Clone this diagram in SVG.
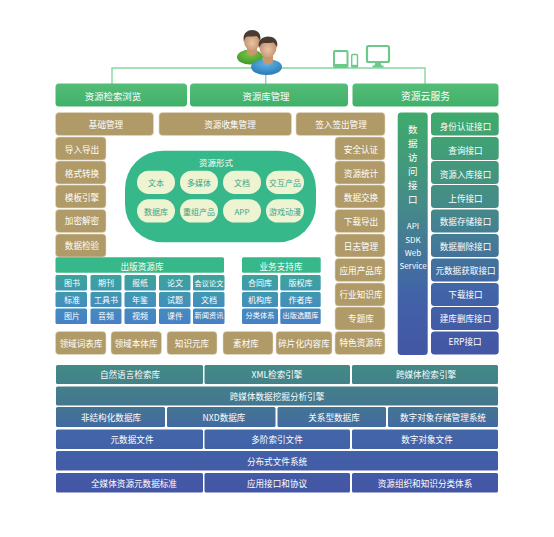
<svg xmlns="http://www.w3.org/2000/svg" width="554" height="537" viewBox="0 0 554 537">
<style>
text{font-family:"Noto Sans CJK SC","Liberation Sans",sans-serif;font-size:8.600px;fill:#fff;text-anchor:middle;dominant-baseline:central}
.b rect{fill:#b09a67;stroke:#e4dcc8;stroke-width:.6}
.s{font-size:8px}
.x{font-size:7.200px}
.p rect{fill:#eef3d2}
.p text{fill:#3fa284;font-size:8px}
.v{font-size:9.500px}
</style>
<defs>
<linearGradient id="g" gradientUnits="userSpaceOnUse" x1="0" y1="83" x2="0" y2="107"><stop offset="0" stop-color="#55bd78"/><stop offset="1" stop-color="#3fb069"/></linearGradient>
<linearGradient id="a" gradientUnits="userSpaceOnUse" x1="0" y1="112" x2="0" y2="355"><stop offset="0" stop-color="#3fab6b"/><stop offset=".4" stop-color="#45898a"/><stop offset=".75" stop-color="#4163a8"/><stop offset="1" stop-color="#4456a5"/></linearGradient>
<linearGradient id="c" gradientUnits="userSpaceOnUse" x1="0" y1="275" x2="0" y2="324"><stop offset="0" stop-color="#3ba49a"/><stop offset=".5" stop-color="#4293b8"/><stop offset="1" stop-color="#4780c6"/></linearGradient>
<linearGradient id="l" gradientUnits="userSpaceOnUse" x1="0" y1="365" x2="0" y2="493"><stop offset="0" stop-color="#428a85"/><stop offset=".3" stop-color="#44778f"/><stop offset=".55" stop-color="#4265a8"/><stop offset="1" stop-color="#4455a5"/></linearGradient>
<radialGradient id="sk" cy=".6" r=".6"><stop offset="0" stop-color="#ecc4a2"/><stop offset="1" stop-color="#b98a68"/></radialGradient>
<radialGradient id="gb" cy=".3" r=".7"><stop offset="0" stop-color="#7cc243"/><stop offset="1" stop-color="#3f9a2c"/></radialGradient>
<radialGradient id="bb" cy=".3" r=".7"><stop offset="0" stop-color="#63b4e2"/><stop offset="1" stop-color="#2679b5"/></radialGradient>
</defs>
<g id="connectors" fill="none" stroke="#86d6a0" stroke-width="1.400">
<path d="M112 84V68H425V84"/><path d="M265.700 68V84"/>
</g>
<g id="users">
<ellipse cx="250" cy="57" rx="13" ry="7.500" fill="url(#gb)"/>
<path d="M247 44h10v9q-5 5-10 0z" fill="#c99670"/>
<ellipse cx="252" cy="41" rx="8" ry="9.500" fill="url(#sk)"/>
<path d="M244 42c-2-8 3-12 8-12s10 3 8 11c-1-3-3-5-4-5-4 1-9 0-10 1-1 1-2 3-2 5z" fill="#4a3a30"/>
<ellipse cx="266.500" cy="67" rx="15.500" ry="8" fill="url(#bb)"/>
<path d="M263 52h10v10q-5 5-10 0z" fill="#c99670"/>
<ellipse cx="268" cy="47.500" rx="8.500" ry="10" fill="url(#sk)"/>
<path d="M259 48c-2-8 4-11.500 9-11.500s11 3 9 11c-1-3-3-5-4-5-4 1-9 0-11 1-1 1-2 2-3 4.500z" fill="#4a3a30"/>
</g>
<g id="devices" fill="none" stroke="#6cc98a">
<rect x="334" y="51" width="13.500" height="16" rx="1" stroke-width="2"/>
<path d="M334 65.500h13.500" stroke-width="3"/>
<rect x="351.700" y="54.500" width="5.800" height="12.500" rx="1" stroke-width="1.400"/>
<path d="M351.700 65.800h5.800" stroke-width="2"/>
<rect x="367" y="46" width="22" height="16" rx="1.500" stroke-width="2.200"/>
<path d="M375.500 62h5l1 3.500h2v2h-11v-2h2z" fill="#6cc98a" stroke="none"/>
</g>
<g id="top-bar" fill="url(#g)">
<g id="n-browse"><rect x="55.500" y="83.500" width="131.500" height="23" rx="3.500"/><text x="113" y="95.500" style="font-size:9.400px">资源检索浏览</text></g>
<g id="n-libmgmt"><rect x="190" y="83.500" width="158" height="23" rx="3.500"/><text x="266" y="95.500" style="font-size:9.400px">资源库管理</text></g>
<g id="n-cloud"><rect x="352.500" y="83.500" width="146" height="23" rx="3.500"/><text x="425.500" y="95.500" style="font-size:9.800px">资源云服务</text></g>
</g>
<g class="b">
<g id="n1"><rect x="55.500" y="112.500" width="98" height="23" rx="3.500"/><text x="106" y="124">基础管理</text></g>
<g id="n2"><rect x="159" y="112.500" width="132.500" height="23" rx="3.500"/><text x="230" y="124">资源收集管理</text></g>
<g id="n3"><rect x="296" y="112.500" width="89" height="23" rx="3.500"/><text x="341" y="124">签入签出管理</text></g>
<g id="n4"><rect x="55.500" y="137" width="50.500" height="23" rx="3.500"/><text x="82" y="148.500">导入导出</text></g>
<g id="n5"><rect x="55.500" y="161" width="50.500" height="23" rx="3.500"/><text x="82" y="172.500">格式转换</text></g>
<g id="n6"><rect x="55.500" y="185" width="50.500" height="23" rx="3.500"/><text x="82" y="196.500">模板引擎</text></g>
<g id="n7"><rect x="55.500" y="209.500" width="50.500" height="23" rx="3.500"/><text x="82" y="220">加密解密</text></g>
<g id="n8"><rect x="55.500" y="234" width="50.500" height="23" rx="3.500"/><text x="82" y="244.500">数据检验</text></g>
<g id="n9"><rect x="335" y="137" width="50" height="23" rx="3.500"/><text x="361" y="149">安全认证</text></g>
<g id="n10"><rect x="335" y="161" width="50" height="23" rx="3.500"/><text x="361" y="173">资源统计</text></g>
<g id="n11"><rect x="335" y="185" width="50" height="23" rx="3.500"/><text x="361" y="197">数据交换</text></g>
<g id="n12"><rect x="335" y="209.500" width="50" height="23" rx="3.500"/><text x="361" y="221">下载导出</text></g>
<g id="n13"><rect x="335" y="234" width="50" height="23" rx="3.500"/><text x="361" y="245.500">日志管理</text></g>
<g id="n14"><rect x="335" y="258.500" width="50" height="23" rx="3.500"/><text x="361" y="270">应用产品库</text></g>
<g id="n15"><rect x="335" y="283" width="50" height="23" rx="3.500"/><text x="361" y="294">行业知识库</text></g>
<g id="n16"><rect x="335" y="307" width="50" height="23" rx="3.500"/><text x="361" y="318">专题库</text></g>
<g id="n17"><rect x="335" y="331.500" width="50" height="23" rx="3.500"/><text x="361" y="342">特色资源库</text></g>
<g id="n18"><rect x="55.500" y="331.500" width="50.500" height="23" rx="3.500"/><text x="81" y="342.500">领域词表库</text></g>
<g id="n19"><rect x="111" y="331.500" width="50.500" height="23" rx="3.500"/><text x="136" y="342.500">领域本体库</text></g>
<g id="n20"><rect x="167" y="331.500" width="50" height="23" rx="3.500"/><text x="192" y="342.500">知识元库</text></g>
<g id="n21"><rect x="223" y="331.500" width="50" height="23" rx="3.500"/><text x="246" y="342.500">素材库</text></g>
<g id="n22"><rect x="276" y="331.500" width="56" height="23" rx="3.500"/><text x="304" y="342.500">碎片化内容库</text></g>
</g>
<g id="n-forms">
<rect x="125" y="150.700" width="191" height="91.600" rx="38" fill="#37b88a"/>
<text x="216" y="162" style="font-size:8.500px">资源形式</text>
</g>
<g class="p">
<g id="f1"><rect x="137" y="170.700" width="38" height="23.300" rx="11.600"/><text x="156" y="182.500">文本</text></g>
<g id="f2"><rect x="180" y="170.700" width="38" height="23.300" rx="11.600"/><text x="199" y="182.500">多媒体</text></g>
<g id="f3"><rect x="223" y="170.700" width="38" height="23.300" rx="11.600"/><text x="242" y="182.500">文档</text></g>
<g id="f4"><rect x="266" y="170.700" width="38" height="23.300" rx="11.600"/><text x="285" y="182.500">交互产品</text></g>
<g id="f5"><rect x="137" y="199.300" width="38" height="23.300" rx="11.600"/><text x="156" y="211">数据库</text></g>
<g id="f6"><rect x="180" y="199.300" width="38" height="23.300" rx="11.600"/><text x="199" y="211">重组产品</text></g>
<g id="f7"><rect x="223" y="199.300" width="38" height="23.300" rx="11.600"/><text x="242" y="211">APP</text></g>
<g id="f8"><rect x="266" y="199.300" width="38" height="23.300" rx="11.600"/><text x="285" y="211">游戏动漫</text></g>
</g>
<g id="n-access">
<rect x="397.700" y="112.500" width="30" height="242.500" rx="3.500" fill="url(#a)"/>
<text x="412.700" y="129" class="v">数</text><text x="412.700" y="143" class="v">据</text><text x="412.700" y="157" class="v">访</text><text x="412.700" y="171" class="v">问</text><text x="412.700" y="185" class="v">接</text><text x="412.700" y="199" class="v">口</text>
<text x="413" y="225" class="s">API</text><text x="413" y="239" class="s">SDK</text><text x="413" y="252" class="s">Web</text><text x="413" y="265" class="s">Service</text>
</g>
<g fill="url(#a)">
<g id="i1"><rect x="431" y="112.500" width="67.700" height="23" rx="3.500"/><text x="465.500" y="125.500">身份认证接口</text></g>
<g id="i2"><rect x="431" y="137" width="67.700" height="23" rx="3.500"/><text x="465.500" y="149.500">查询接口</text></g>
<g id="i3"><rect x="431" y="161" width="67.700" height="23" rx="3.500"/><text x="465.500" y="173.500">资源入库接口</text></g>
<g id="i4"><rect x="431" y="185" width="67.700" height="23" rx="3.500"/><text x="465.500" y="197.500">上传接口</text></g>
<g id="i5"><rect x="431" y="209.500" width="67.700" height="23" rx="3.500"/><text x="465.500" y="221">数据存储接口</text></g>
<g id="i6"><rect x="431" y="234" width="67.700" height="23" rx="3.500"/><text x="465.500" y="245.500">数据删除接口</text></g>
<g id="i7"><rect x="431" y="258.500" width="67.700" height="23" rx="3.500"/><text x="465.500" y="269.500">元数据获取接口</text></g>
<g id="i8"><rect x="431" y="283" width="67.700" height="23" rx="3.500"/><text x="465.500" y="293.500">下载接口</text></g>
<g id="i9"><rect x="431" y="307" width="67.700" height="23" rx="3.500"/><text x="465.500" y="317.500">建库删库接口</text></g>
<g id="i10"><rect x="431" y="331.500" width="67.700" height="23" rx="3.500"/><text x="465" y="341">ERP接口</text></g>
</g>
<g id="publish">
<rect x="55.500" y="257.300" width="168.500" height="15.400" rx="1.500" fill="#37b88a"/><text x="142" y="265.500">出版资源库</text>
<g fill="url(#c)">
<rect x="55.500" y="275" width="31.500" height="15.500" rx="1.500"/><rect x="90.500" y="275" width="31" height="15.500" rx="1.500"/><rect x="124.500" y="275" width="31.500" height="15.500" rx="1.500"/><rect x="159" y="275" width="31.500" height="15.500" rx="1.500"/><rect x="193" y="275" width="31.500" height="15.500" rx="1.500"/>
<rect x="55.500" y="292" width="31.500" height="15" rx="1.500"/><rect x="90.500" y="292" width="31" height="15" rx="1.500"/><rect x="124.500" y="292" width="31.500" height="15" rx="1.500"/><rect x="159" y="292" width="31.500" height="15" rx="1.500"/><rect x="193" y="292" width="31.500" height="15" rx="1.500"/>
<rect x="55.500" y="308.500" width="31.500" height="15.500" rx="1.500"/><rect x="90.500" y="308.500" width="31" height="15.500" rx="1.500"/><rect x="124.500" y="308.500" width="31.500" height="15.500" rx="1.500"/><rect x="159" y="308.500" width="31.500" height="15.500" rx="1.500"/><rect x="193" y="308.500" width="31.500" height="15.500" rx="1.500"/>
</g>
<text x="72" y="282.500" class="s">图书</text><text x="106" y="282.500" class="s">期刊</text><text x="140" y="282.500" class="s">报纸</text><text x="175" y="282.500" class="s">论文</text><text x="209" y="282.500" class="x">会议论文</text>
<text x="72" y="299" class="s">标准</text><text x="106" y="299" class="s">工具书</text><text x="140" y="299" class="s">年鉴</text><text x="175" y="299" class="s">试题</text><text x="209" y="299" class="s">文档</text>
<text x="72" y="315" class="s">图片</text><text x="106" y="315" class="s">音频</text><text x="140" y="315" class="s">视频</text><text x="175" y="315" class="s">课件</text><text x="209" y="315" class="x">新闻资讯</text>
</g>
<g id="business">
<rect x="242" y="257.300" width="78.700" height="15.400" rx="1.500" fill="#37b88a"/><text x="281" y="265.500">业务支持库</text>
<g fill="url(#c)">
<rect x="242" y="275" width="36" height="15.500" rx="1.500"/><rect x="280.300" y="275" width="40.400" height="15.500" rx="1.500"/>
<rect x="242" y="292" width="36" height="15" rx="1.500"/><rect x="280.300" y="292" width="40.400" height="15" rx="1.500"/>
<rect x="242" y="308.500" width="36" height="15.500" rx="1.500"/><rect x="280.300" y="308.500" width="40.400" height="15.500" rx="1.500"/>
</g>
<text x="260" y="282.500" class="s">合同库</text><text x="300.500" y="282.500" class="s">版权库</text>
<text x="260" y="299" class="s">机构库</text><text x="300.500" y="299" class="s">作者库</text>
<text x="260" y="315" class="x">分类体系</text><text x="300.500" y="315" class="x">出版选题库</text>
</g>
<g id="base" fill="url(#l)">
<g id="r1a"><rect x="56" y="365" width="147" height="19" rx="1.500"/><text x="130" y="374">自然语言检索库</text></g>
<g id="r1b"><rect x="204.500" y="365" width="145.500" height="19" rx="1.500"/><text x="277" y="374">XML检索引擎</text></g>
<g id="r1c"><rect x="352" y="365" width="146" height="19" rx="1.500"/><text x="426" y="374">跨媒体检索引擎</text></g>
<g id="r2"><rect x="56" y="386.500" width="442" height="19" rx="1.500"/><text x="277" y="395.500">跨媒体数据挖掘分析引擎</text></g>
<g id="r3a"><rect x="56" y="407" width="109" height="20" rx="1.500"/><text x="111" y="417">非结构化数据库</text></g>
<g id="r3b"><rect x="167" y="407" width="108.500" height="20" rx="1.500"/><text x="224" y="417">NXD数据库</text></g>
<g id="r3c"><rect x="277.500" y="407" width="108.500" height="20" rx="1.500"/><text x="334" y="417">关系型数据库</text></g>
<g id="r3d"><rect x="388" y="407" width="110" height="20" rx="1.500"/><text x="443" y="417">数字对象存储管理系统</text></g>
<g id="r4a"><rect x="56" y="429.500" width="147" height="19.500" rx="1.500"/><text x="132" y="439">元数据文件</text></g>
<g id="r4b"><rect x="204.500" y="429.500" width="145.500" height="19.500" rx="1.500"/><text x="277" y="439">多阶索引文件</text></g>
<g id="r4c"><rect x="352" y="429.500" width="146" height="19.500" rx="1.500"/><text x="427" y="439">数字对象文件</text></g>
<g id="r5"><rect x="56" y="451" width="442" height="19.500" rx="1.500"/><text x="277" y="461">分布式文件系统</text></g>
<g id="r6a"><rect x="56" y="473" width="147" height="19.500" rx="1.500"/><text x="134" y="483">全媒体资源元数据标准</text></g>
<g id="r6b"><rect x="204.500" y="473" width="145.500" height="19.500" rx="1.500"/><text x="277" y="483">应用接口和协议</text></g>
<g id="r6c"><rect x="352" y="473" width="146" height="19.500" rx="1.500"/><text x="425" y="483">资源组织和知识分类体系</text></g>
</g>
</svg>
